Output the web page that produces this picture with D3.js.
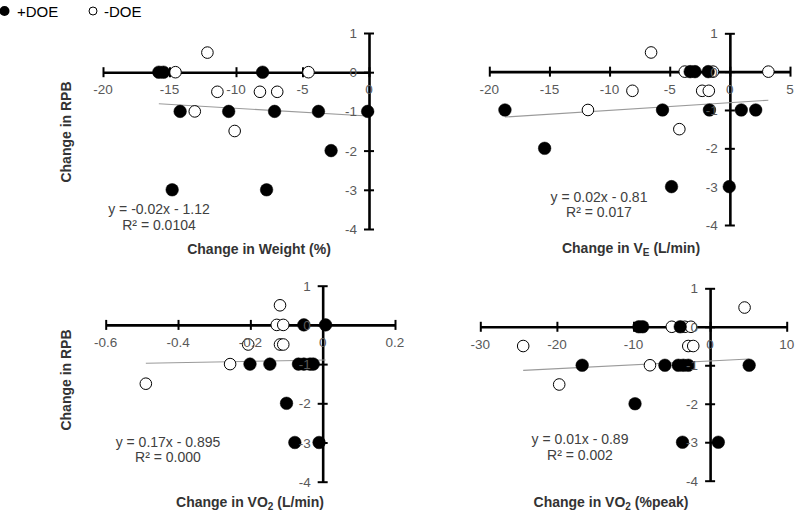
<!DOCTYPE html>
<html><head><meta charset="utf-8">
<script src="https://cdn.jsdelivr.net/npm/d3@7"></script>
<style>body{margin:0;background:#fff}svg{display:block}</style>
</head><body><svg id="c" width="800" height="514"></svg>
<script>
// ---- Data ----
const seriesNames = ["+DOE", "-DOE"];
const yTicks = [1, 0, -1, -2, -3, -4];

// Panel 1: Change in Weight (%)
const weightTicks = [-20, -15, -10, -5, 0];
const weightPlusX = [-15.8, -15.45, -8.0, -14.2, -10.55, -7.1, -3.8, -0.1, -2.85, -14.8, -7.7];
const weightPlusY = [0, 0, 0, -1, -1, -1, -1, -1, -2, -3, -3];
const weightMinusX = [-12.15, -14.55, -4.55, -11.4, -8.2, -6.9, -13.1, -10.1];
const weightMinusY = [0.5, 0, 0, -0.5, -0.5, -0.5, -1, -1.5];
const weightFit = {slope: -0.02, intercept: -1.12, eq: "y = -0.02x - 1.12", r2: "R\u00b2 = 0.0104"};

// Panel 2: Change in VE (L/min)
const veTicks = [-20, -15, -10, -5, 0, 5];
const vePlusX = [-18.7, -15.4, -5.6, -4.85, -3.3, -2.9, -1.8, -1.7, -0.05, 0.95, 2.15];
const vePlusY = [-1, -2, -1, -3, 0, 0, 0, -1, -3, -1, -1];
const veMinusX = [-6.55, -3.75, -1.4, 3.2, -8.1, -2.3, -1.75, -11.8, -4.2];
const veMinusY = [0.5, 0, 0, 0, -0.5, -0.5, -0.5, -1, -1.5];
const veFit = {slope: 0.02, intercept: -0.81, eq: "y = 0.02x - 0.81", r2: "R\u00b2 = 0.017"};

// Panel 3: Change in VO2 (L/min)
const vo2Ticks = [-0.6, -0.4, -0.2, 0, 0.2];
const vo2PlusX = [-0.052, 0.008, -0.201, -0.146, -0.067, -0.052, -0.035, -0.026, -0.1, -0.077, -0.01];
const vo2PlusY = [0, 0, -1, -1, -1, -1, -1, -1, -2, -3, -3];
const vo2MinusX = [-0.118, -0.127, -0.109, -0.118, -0.109, -0.206, -0.256, -0.489];
const vo2MinusY = [0.5, 0, 0, -0.5, -0.5, -0.5, -1, -1.5];
const vo2Fit = {slope: 0.17, intercept: -0.895, eq: "y = 0.17x - 0.895", r2: "R\u00b2 = 0.000"};

// Panel 4: Change in VO2 (%peak)
const pkTicks = [-30, -20, -10, 0, 10];
const pkPlusX = [-9.3, -8.8, -3.9, -16.7, -5.9, -4.15, -3.5, -2.85, 5.1, -9.8, -3.6, 1.07];
const pkPlusY = [0, 0, 0, -1, -1, -1, -1, -1, -1, -2, -3, -3];
const pkMinusX = [4.5, -5.0, -3.3, -2.5, -24.4, -2.85, -2.2, -7.85, -19.7];
const pkMinusY = [0.5, 0, 0, 0, -0.5, -0.5, -0.5, -1, -1.5];
const pkFit = {slope: 0.01, intercept: -0.89, eq: "y = 0.01x - 0.89", r2: "R\u00b2 = 0.002"};

// ---- Drawing ----
const svg = d3.select("#c");
const FONT = "'Liberation Sans', Arial, sans-serif";
const fmt = d => String(d);

function panel(o) {
  const x = d3.scaleLinear().domain([o.ticks[0], o.ticks[o.ticks.length - 1]]).range(o.xr);
  const y = d3.scaleLinear().domain([1, -4]).range(o.yr);
  const g = svg.append("g");

  // x axis at y=0
  const xa = d3.axisBottom(x).tickValues(o.ticks).tickSize(0).tickFormat(fmt).tickSizeOuter(0);
  const gx = g.append("g").attr("transform", `translate(0,${y(0)})`).call(xa);
  gx.select(".domain").attr("stroke", "#000").attr("stroke-width", 2.6);
  gx.selectAll(".tick text").remove();
  gx.selectAll(".tick").append("line").attr("y1", -5).attr("y2", 5).attr("stroke", "#000").attr("stroke-width", 2);

  // y axis at x=0
  const ya = d3.axisLeft(y).tickValues(yTicks).tickSize(0).tickSizeOuter(0);
  const gy = g.append("g").attr("transform", `translate(${x(0)},0)`).call(ya);
  gy.select(".domain").attr("stroke", "#000").attr("stroke-width", 2.6);
  gy.selectAll(".tick text").remove();
  gy.selectAll(".tick").append("line").attr("x1", -5).attr("x2", 5).attr("stroke", "#000").attr("stroke-width", 2);

  // trend line
  const plusX = o.px, minusX = o.mx;
  const allX = plusX.concat(minusX);
  const x0 = d3.min(allX), x1 = d3.max(allX);
  g.append("line")
    .attr("x1", x(x0)).attr("y1", y(o.fit.slope * x0 + o.fit.intercept))
    .attr("x2", x(x1)).attr("y2", y(o.fit.slope * x1 + o.fit.intercept))
    .attr("stroke", "#9a9a9a").attr("stroke-width", 1.1);

  // markers: open first, filled on top
  g.selectAll(".open").data(minusX.map((v, i) => [v, o.my[i]])).join("circle")
    .attr("cx", d => x(d[0])).attr("cy", d => y(d[1])).attr("r", 5.8)
    .attr("fill", "#fff").attr("stroke", "#000").attr("stroke-width", 1);
  g.selectAll(".fill").data(plusX.map((v, i) => [v, o.py[i]])).join("circle")
    .attr("cx", d => x(d[0])).attr("cy", d => y(d[1])).attr("r", 6.3)
    .attr("fill", "#000").attr("stroke", "#000").attr("stroke-width", 0.5);

  // tick labels on top
  g.selectAll(".xl").data(o.ticks).join("text")
    .attr("x", d => x(d)).attr("y", y(0) + 22)
    .attr("text-anchor", "middle").attr("font-family", FONT).attr("font-size", 13.5).attr("fill", "#595959")
    .text(fmt);
  g.selectAll(".yl").data(yTicks).join("text")
    .attr("x", x(0) - 12).attr("y", d => y(d) + 5)
    .attr("text-anchor", "end").attr("font-family", FONT).attr("font-size", 13.5).attr("fill", "#595959")
    .text(fmt);

  // equation
  g.append("text").attr("x", o.eqx).attr("y", o.eqy).attr("text-anchor", "middle")
    .attr("font-family", FONT).attr("font-size", 14).attr("fill", "#404040").text(o.fit.eq);
  g.append("text").attr("x", o.eqx).attr("y", o.eqy + 15.5).attr("text-anchor", "middle")
    .attr("font-family", FONT).attr("font-size", 14).attr("fill", "#404040").text(o.fit.r2);

  // x title
  const t = g.append("text").attr("x", o.tx).attr("y", o.ty).attr("text-anchor", "middle")
    .attr("font-family", FONT).attr("font-size", 14).attr("font-weight", "bold").attr("fill", "#333");
  o.title.forEach(p => {
    const s = t.append("tspan").text(p[0]);
    if (p[1] === "sub") s.attr("font-size", 10).attr("dy", 3);
    if (p[1] === "back") s.attr("dy", -3);
  });

  if (o.ylab) {
    svg.append("text").attr("transform", `translate(${o.ylab[0]},${o.ylab[1]}) rotate(-90)`)
      .attr("text-anchor", "middle").attr("font-family", FONT).attr("font-size", 14)
      .attr("font-weight", "bold").attr("fill", "#333").text("Change in RPB");
  }
}

panel({ticks: weightTicks, xr: [103, 369], yr: [33, 229], px: weightPlusX, py: weightPlusY, mx: weightMinusX, my: weightMinusY,
  fit: weightFit, eqx: 159, eqy: 214, tx: 259, ty: 254, title: [["Change in Weight (%)"]], ylab: [70.5, 132]});
panel({ticks: veTicks, xr: [489.3, 790], yr: [33.3, 225], px: vePlusX, py: vePlusY, mx: veMinusX, my: veMinusY,
  fit: veFit, eqx: 599, eqy: 201.5, tx: 631, ty: 253, title: [["Change in V"], ["E", "sub"], [" (L/min)", "back"]]});
panel({ticks: vo2Ticks, xr: [105.7, 395], yr: [285.7, 481.7], px: vo2PlusX, py: vo2PlusY, mx: vo2MinusX, my: vo2MinusY,
  fit: vo2Fit, eqx: 168, eqy: 446.5, tx: 250, ty: 507, title: [["Change in VO"], ["2", "sub"], [" (L/min)", "back"]], ylab: [70.5, 380]});
panel({ticks: pkTicks, xr: [480.3, 786.7], yr: [288.3, 480.7], px: pkPlusX, py: pkPlusY, mx: pkMinusX, my: pkMinusY,
  fit: pkFit, eqx: 580, eqy: 444.3, tx: 611, ty: 507, title: [["Change in VO"], ["2", "sub"], [" (%peak)", "back"]]});

// legend
const leg = svg.append("g");
leg.append("circle").attr("cx", 4.5).attr("cy", 11).attr("r", 5).attr("fill", "#000");
leg.append("text").attr("x", 17).attr("y", 16.5).attr("font-family", FONT).attr("font-size", 15).attr("fill", "#000").text(seriesNames[0]);
leg.append("circle").attr("cx", 93).attr("cy", 11).attr("r", 4).attr("fill", "#fff").attr("stroke", "#000").attr("stroke-width", 1);
leg.append("text").attr("x", 104).attr("y", 16.5).attr("font-family", FONT).attr("font-size", 15).attr("fill", "#000").text(seriesNames[1]);
</script></body></html>
